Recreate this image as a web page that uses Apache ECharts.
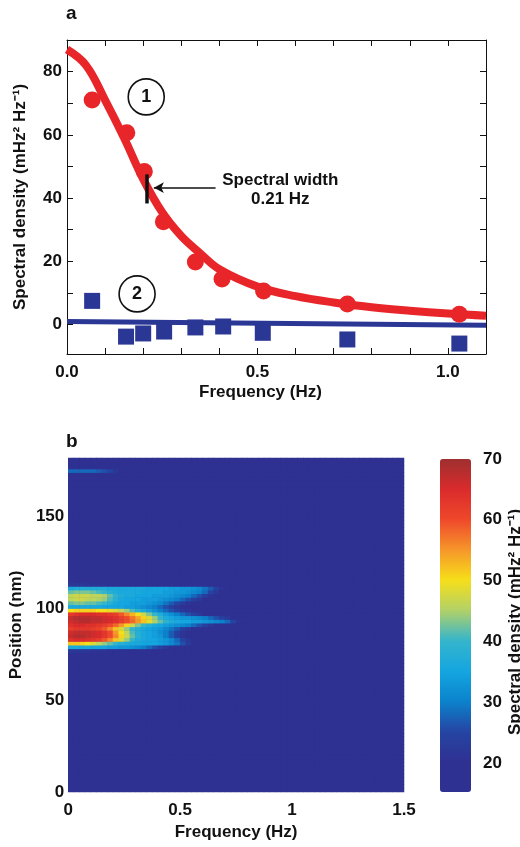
<!DOCTYPE html>
<html><head><meta charset="utf-8">
<script src="https://cdn.jsdelivr.net/npm/echarts@6/dist/echarts.min.js"></script>
<style>html,body{margin:0;padding:0;background:#fff}#c{width:520px;height:847px}</style>
</head><body><div id="c"></div>
<script>
// ---------- Panel a data ----------
const fitFreq    = [0, 0.05, 0.1, 0.15, 0.2, 0.25, 0.3, 0.35, 0.4, 0.5, 0.6, 0.7, 0.8, 0.9, 1.0, 1.1];
const fitDensity = [87, 82, 71, 59, 46, 35.5, 28, 22.5, 17.5, 12, 9, 7, 5.5, 4.4, 3.5, 2.8];
const redFreq    = [0.066, 0.157, 0.203, 0.253, 0.337, 0.407, 0.516, 0.736, 1.03];
const redDensity = [71, 60.7, 48.4, 32.5, 19.8, 14.4, 10.6, 6.5, 3.3];
const blueFreq    = [0.066, 0.155, 0.2, 0.255, 0.337, 0.41, 0.514, 0.736, 1.03];
const blueDensity = [7.5, -3.8, -2.8, -2.2, -0.9, -0.6, -2.6, -4.7, -6];
const baseFreq    = [0, 1.1];
const baseDensity = [1.0, -0.2];
const circleLabels = ['1', '2'];
const circleFreq   = [0.208, 0.184];
const circleDens   = [72, 9.7];
const aXTickLabels = [0, 0.5, 1.0];
const aXTicks      = [0.1, 0.2, 0.3, 0.4, 0.5, 0.6, 0.7, 0.8, 0.9, 1.0];
const aYTickLabels = [0, 20, 40, 60, 80];
const aYTicks      = [0, 10, 20, 30, 40, 50, 60, 70, 80];

// ---------- Panel b data ----------
const heatFreqStep = 0.025;     // Hz per column
const heatFreqCols = 60;        // 0 .. 1.5 Hz
const heatPosStep = 2;          // nm per row
const heatPosRows = 91;         // 0 .. 182 nm
const heatBackground = 17;
// bright rows: position centre (nm); values for the first 32 frequency columns (0 .. 0.8 Hz)
const hotPositions = [113, 111, 109, 107, 105, 103, 101, 99, 97, 95, 93, 91, 89, 87, 85, 83, 81, 79, 77, 175, 173];
const hotRows = [
  [22,22,22,21,21,21,21,20,20,20,20,20,19,19,19,19,19,18,18,18,18,18,17,17,17,17,17,17,17,17,17,17],
  [36,37,37,37,37,37,37,36,36,36,36,36,36,36,35,35,35,35,34,34,33,33,32,31,29,27,24,21,19,18,17,17],
  [42,43,43,43,42,41,40,38,37,36,36,36,36,35,35,35,35,34,34,33,33,32,31,30,28,25,22,20,18,17,17,17],
  [46,47,47,47,46,46,45,42,39,37,36,36,35,35,35,34,34,34,33,32,31,30,28,26,23,21,19,18,17,17,17,17],
  [46,47,47,46,46,45,44,41,38,36,35,35,35,34,34,34,33,32,31,30,28,26,24,22,20,18,17,17,17,17,17,17],
  [42,43,43,42,42,41,40,38,36,35,35,34,34,34,33,32,31,29,27,25,23,21,20,18,17,17,17,17,17,17,17,17],
  [36,36,36,36,36,36,35,35,35,35,34,34,33,32,31,30,28,26,24,22,20,19,18,17,17,17,17,17,17,17,17,17],
  [50,51,51,51,51,50,50,49,48,46,44,41,38,36,34,32,30,28,26,24,22,21,20,19,18,17,17,17,17,17,17,17],
  [63,64,65,65,65,64,64,63,62,59,56,53,50,47,43,40,37,34,32,30,28,26,24,22,20,19,18,17,17,17,17,17],
  [67,68,68,68,67,67,66,65,64,62,60,57,54,51,48,44,40,37,35,34,33,33,32,31,30,28,26,24,22,20,18,17],
  [66,67,68,68,67,67,66,65,64,62,60,58,55,52,49,45,42,39,37,36,35,35,34,34,33,32,31,30,28,25,21,18],
  [64,65,65,64,64,63,62,60,58,55,51,47,43,40,38,36,35,34,33,32,31,30,28,26,24,22,20,18,17,17,17,17],
  [62,63,63,63,62,61,59,56,52,48,44,40,38,36,35,34,33,31,29,27,24,22,20,18,17,17,17,17,17,17,17,17],
  [66,67,67,67,66,65,63,60,55,50,46,41,38,36,35,34,32,30,27,24,21,19,18,17,17,17,17,17,17,17,17,17],
  [67,68,68,67,66,65,63,60,56,51,47,42,38,36,35,34,33,30,27,24,21,19,18,17,17,17,17,17,17,17,17,17],
  [64,65,65,64,63,62,59,56,52,48,44,40,37,36,35,35,34,33,31,28,25,22,19,18,17,17,17,17,17,17,17,17],
  [52,52,51,50,48,46,44,42,40,38,37,36,36,35,35,35,34,33,31,29,26,23,20,18,17,17,17,17,17,17,17,17],
  [36,36,36,36,35,35,35,34,34,33,33,32,31,30,28,26,24,22,20,19,18,17,17,17,17,17,17,17,17,17,17,17],
  [22,22,22,22,21,21,21,20,20,20,19,19,19,18,18,18,17,17,17,17,17,17,17,17,17,17,17,17,17,17,17,17],
  [28,28,28,28,28,27,26,25,22,20,18,17,17,17,17,17,17,17,17,17,17,17,17,17,17,17,17,17,17,17,17,17],
  [20,20,20,20,20,19,19,18,18,17,17,17,17,17,17,17,17,17,17,17,17,17,17,17,17,17,17,17,17,17,17,17]
];
const bXTickLabels = [0, 0.5, 1, 1.5];
const bYTickLabels = [0, 50, 100, 150];
const cbarTickLabels = [20, 30, 40, 50, 60, 70];
const cbarMin = 15.2, cbarMax = 70;
const jetColors = ['#2f3192','#2f3192','#2545a3','#0b83cc','#15a6e0','#35b5cc','#b2d168','#f6df1a','#f6962a','#ef482b','#da2b2c','#9e2f2f'];

// ---------- build ----------
const zip = (xs, ys) => xs.map((x, i) => [x, ys[i]]);
const hotMap = {};
hotPositions.forEach((p, i) => { hotMap[p] = hotRows[i]; });
const heatData = [], posCats = [], freqCats = [];
for (let c = 0; c < heatFreqCols; c++) freqCats.push(c);
for (let r = 0; r < heatPosRows; r++) {
  const centre = r * heatPosStep + 1;
  posCats.push(centre);
  const row = hotMap[centre];
  for (let c = 0; c < heatFreqCols; c++) {
    const v = (row && c < row.length) ? row[c] : heatBackground;
    heatData.push([c, r, v]);
  }
}

const FONT = 'Liberation Sans';
const lbl = {fontFamily: FONT, fontWeight: 'bold', fontSize: 17, color: '#111'};
const axLine = {show: true, onZero: false, lineStyle: {color: '#111', width: 1}};
const tickIn = (vals) => ({show: true, inside: true, length: 6, customValues: vals, lineStyle: {color: '#111', width: 1}});
const RED = '#e8262a', BLUE = '#2b3794';

const chart = echarts.init(document.getElementById('c'), null, {renderer: 'canvas'});
chart.setOption({
  animation: false,
  backgroundColor: '#fff',
  grid: [
    {left: 67, top: 40, width: 419, height: 314},
    {left: 67, top: 458, width: 337, height: 334, show: true, backgroundColor: '#2f3192', borderWidth: 0},
    {left: 440, top: 459, width: 31, height: 333}
  ],
  xAxis: [
    {gridIndex: 0, type: 'value', min: 0, max: 1.1, position: 'bottom',
     axisLine: axLine, axisTick: tickIn(aXTicks), splitLine: {show: false},
     axisLabel: Object.assign({customValues: aXTickLabels, margin: 10, formatter: v => v.toFixed(1)}, lbl),
     name: 'Frequency (Hz)', nameLocation: 'middle', nameGap: 30,
     nameTextStyle: Object.assign({padding: [0, 32, 0, 0]}, lbl)},
    {gridIndex: 0, type: 'value', min: 0, max: 1.1, position: 'top',
     axisLine: axLine, axisTick: tickIn(aXTicks), axisLabel: {show: false}, splitLine: {show: false}},
    {gridIndex: 1, type: 'category', data: freqCats, show: false},
    {gridIndex: 1, type: 'value', min: 0, max: 1.5, position: 'bottom',
     axisLine: {show: false, onZero: false}, axisTick: {show: false}, splitLine: {show: false},
     axisLabel: Object.assign({customValues: bXTickLabels, margin: 10}, lbl),
     name: 'Frequency (Hz)', nameLocation: 'middle', nameGap: 32, nameTextStyle: lbl},
    {gridIndex: 2, type: 'value', min: 0, max: 1, show: false}
  ],
  yAxis: [
    {gridIndex: 0, type: 'value', min: -9.3, max: 90, position: 'left',
     axisLine: axLine, axisTick: tickIn(aYTicks), splitLine: {show: false},
     axisLabel: Object.assign({customValues: aYTickLabels, margin: 5}, lbl),
     name: 'Spectral density (mHz² Hz⁻¹)', nameLocation: 'middle', nameGap: 38, nameTextStyle: lbl},
    {gridIndex: 0, type: 'value', min: -9.3, max: 90, position: 'right',
     axisLine: axLine, axisTick: tickIn(aYTicks), axisLabel: {show: false}, splitLine: {show: false}},
    {gridIndex: 1, type: 'category', data: posCats, show: false},
    {gridIndex: 1, type: 'value', min: 0, max: heatPosRows * heatPosStep, position: 'left',
     axisLine: {show: false, onZero: false}, axisTick: {show: false}, splitLine: {show: false},
     axisLabel: Object.assign({customValues: bYTickLabels, margin: 4}, lbl),
     name: 'Position (nm)', nameLocation: 'middle', nameGap: 41, nameTextStyle: lbl},
    {gridIndex: 2, type: 'value', min: cbarMin, max: cbarMax, position: 'right',
     axisLine: {show: false, onZero: false}, axisTick: {show: false}, splitLine: {show: false},
     axisLabel: Object.assign({customValues: cbarTickLabels, margin: 12}, lbl)}
  ],
  visualMap: {
    type: 'continuous', min: cbarMin, max: cbarMax, seriesIndex: 5,
    calculable: false, hoverLink: false, realtime: false, orient: 'vertical',
    left: 435, top: 454, padding: 5, itemWidth: 31, itemHeight: 333, text: ['', ''],
    inRange: {color: jetColors}
  },
  graphic: [
    {type: 'text', left: 66, top: 4, style: {text: 'a', font: 'bold 19px "Liberation Sans"', fill: '#111'}},
    {type: 'text', left: 66, top: 432, style: {text: 'b', font: 'bold 19px "Liberation Sans"', fill: '#111'}},
    {type: 'text', x: 515, y: 622, rotation: Math.PI / 2,
     style: {text: 'Spectral density (mHz² Hz⁻¹)', font: 'bold 17px "Liberation Sans"', fill: '#111',
             align: 'center', verticalAlign: 'middle', textAlign: 'center', textVerticalAlign: 'middle'}}
  ],
  series: [
    {type: 'line', xAxisIndex: 0, yAxisIndex: 0, data: zip(fitFreq, fitDensity), smooth: 0.4,
     showSymbol: false, lineStyle: {color: RED, width: 8}, z: 2},
    {type: 'scatter', xAxisIndex: 0, yAxisIndex: 0, data: zip(redFreq, redDensity), symbol: 'circle',
     symbolSize: 17, itemStyle: {color: RED, opacity: 1}, z: 3,
     markLine: {silent: true, animation: false, label: {show: false},
       data: [
         [{coord: [0.21, 38.3], symbol: 'none', lineStyle: {color: '#111', width: 3.5, type: 'solid'}},
          {coord: [0.21, 47.5], symbol: 'none'}],
         [{coord: [0.39, 43.3], symbol: 'none', lineStyle: {color: '#111', width: 1.5, type: 'solid'}},
          {coord: [0.228, 43.3], symbol: 'arrow', symbolSize: [8, 10]}]
       ]},
     markPoint: {silent: true, animation: false, symbol: 'circle', symbolSize: 0,
       data: [{coord: [0.56, 42.6], value: 0,
         label: {show: true, position: 'inside', formatter: 'Spectral width\n0.21 Hz', lineHeight: 19,
                 fontFamily: FONT, fontWeight: 'bold', fontSize: 17, color: '#111', align: 'center'}}]}},
    {type: 'line', xAxisIndex: 0, yAxisIndex: 0, data: zip(baseFreq, baseDensity),
     showSymbol: false, lineStyle: {color: BLUE, width: 5}, z: 2},
    {type: 'scatter', xAxisIndex: 0, yAxisIndex: 0, data: zip(blueFreq, blueDensity), symbol: 'rect',
     symbolSize: 16, itemStyle: {color: BLUE, opacity: 1}, z: 3},
    {type: 'scatter', xAxisIndex: 0, yAxisIndex: 0,
     data: circleLabels.map((t, i) => ({value: [circleFreq[i], circleDens[i]], name: t})),
     symbol: 'circle', symbolSize: 36, z: 4,
     itemStyle: {color: '#fff', borderColor: '#111', borderWidth: 1.6, opacity: 1},
     label: {show: true, position: 'inside', formatter: p => p.name,
             fontFamily: FONT, fontWeight: 'bold', fontSize: 18, color: '#111'}},
    {type: 'heatmap', xAxisIndex: 2, yAxisIndex: 2, data: heatData, progressive: 0,
     emphasis: {disabled: true}, itemStyle: {borderWidth: 0}}
  ]
});
</script></body></html>
